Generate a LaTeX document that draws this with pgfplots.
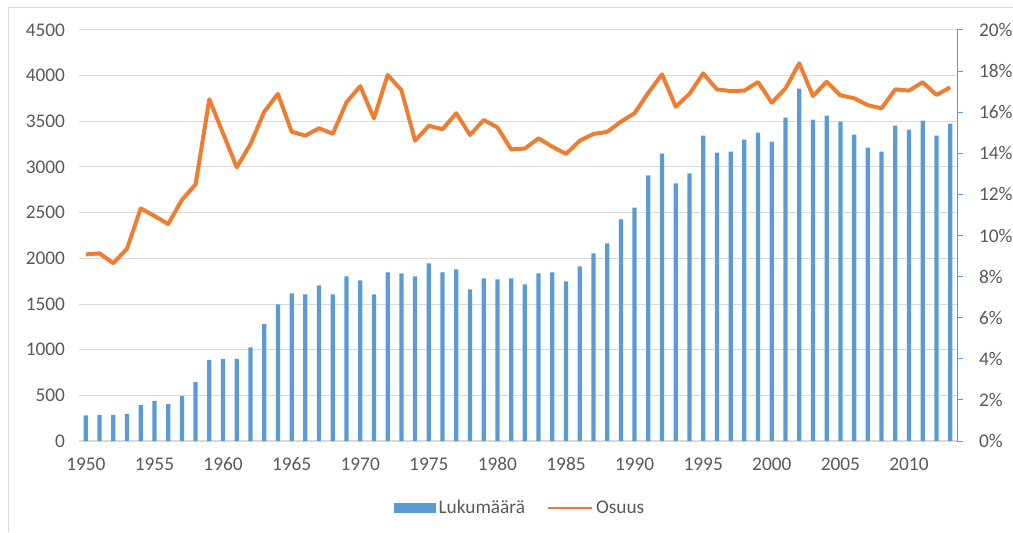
\documentclass[border=0pt]{standalone}
\usepackage{fontspec}
\setmainfont{Carlito}
\usepackage{pgfplots}
\pgfplotsset{compat=1.18}
\definecolor{barblue}{HTML}{5B9BD5}
\definecolor{lineor}{HTML}{ED7D31}
\definecolor{gridc}{HTML}{D9D9D9}
\definecolor{txt}{HTML}{595959}
\definecolor{raxis}{HTML}{5B9BD5}
\begin{document}
\begin{tikzpicture}
\path[use as bounding box] (0,0) rectangle (759.75pt,399pt);
\draw[gridc, line width=0.75pt] (6pt,0) -- (6pt,393pt) -- (759.75pt,393pt);
\begin{axis}[
  at={(59.25pt,68.25pt)}, anchor=south west,
  width=658.5pt, height=308.25pt, scale only axis,
  xmin=1949.5, xmax=2013.5, ymin=0, ymax=4500,
  xtick={1950,1955,...,2010}, ytick={0,500,...,4500},
  axis x line*=bottom, axis y line*=left,
  x axis line style={draw=gridc, line width=1pt, -},
  y axis line style={draw=none},
  major tick style={draw=none},
  ymajorgrids, grid style={draw=gridc, line width=0.75pt},
  /pgf/number format/assume math mode=true,
  /pgf/number format/1000 sep={},
  tick label style={font=\fontsize{14.5}{17}\selectfont, text=txt},
  xticklabel style={yshift=-9pt},
  yticklabel style={xshift=-7pt},
]
\addplot[ybar, bar width=3.2pt, fill=barblue, draw=none] coordinates {
(1950,280) (1951,285) (1952,285) (1953,296) (1954,394) (1955,438) (1956,405) (1957,493)
(1958,646) (1959,887) (1960,898) (1961,898) (1962,1026) (1963,1281) (1964,1496) (1965,1617)
(1966,1606) (1967,1704) (1968,1606) (1969,1803) (1970,1759) (1971,1606) (1972,1847) (1973,1836)
(1974,1803) (1975,1945) (1976,1847) (1977,1880) (1978,1661) (1979,1781) (1980,1770) (1981,1781)
(1982,1716) (1983,1836) (1984,1847) (1985,1748) (1986,1913) (1987,2055) (1988,2165) (1989,2427)
(1990,2555) (1991,2909) (1992,3146) (1993,2821) (1994,2931) (1995,3343) (1996,3157) (1997,3168)
(1998,3299) (1999,3376) (2000,3277) (2001,3540) (2002,3858) (2003,3518) (2004,3562) (2005,3496)
(2006,3354) (2007,3212) (2008,3168) (2009,3452) (2010,3409) (2011,3507) (2012,3343) (2013,3474)
};
\end{axis}
\begin{axis}[
  at={(59.25pt,68.25pt)}, anchor=south west,
  width=658.5pt, height=308.25pt, scale only axis,
  xmin=1949.5, xmax=2013.5, ymin=0, ymax=20,
  ytick={0,2,...,20},
  axis x line=none, axis y line*=right,
  y axis line style={draw=raxis, line width=0.75pt, -},
  ytick style={draw=raxis, line width=0.75pt},
  tick align=outside, major tick length=4.5pt,
  /pgf/number format/assume math mode=true,
  yticklabel={\pgfmathprintnumber{\tick}\%},
  tick label style={font=\fontsize{14.5}{17}\selectfont, text=txt},
  yticklabel style={xshift=8.5pt},
  legend style={draw=none, fill=none, at={(0.503,-0.163)}, anchor=center,
    font=\fontsize{14.5}{17}\selectfont, text=txt, legend columns=2,
    /tikz/every even column/.append style={column sep=14pt}},
]
\addlegendimage{legend image code/.code={\fill[barblue] (0pt,-3.4pt) rectangle (30.75pt,3.4pt);}}
\addlegendentry{Lukumäärä}
\addplot[lineor, line width=3pt, line join=round,
  legend image code/.code={\draw[lineor, line width=2.2pt] (0pt,0pt) -- (33pt,0pt);}] coordinates {
(1950,9.08) (1951,9.13) (1952,8.65) (1953,9.36) (1954,11.32) (1955,10.95) (1956,10.56) (1957,11.73)
(1958,12.49) (1959,16.63) (1960,14.97) (1961,13.32) (1962,14.45) (1963,16.02) (1964,16.89) (1965,15.05)
(1966,14.86) (1967,15.22) (1968,14.95) (1969,16.48) (1970,17.27) (1971,15.70) (1972,17.81) (1973,17.08)
(1974,14.61) (1975,15.34) (1976,15.17) (1977,15.95) (1978,14.89) (1979,15.62) (1980,15.26) (1981,14.19)
(1982,14.23) (1983,14.73) (1984,14.32) (1985,13.97) (1986,14.61) (1987,14.94) (1988,15.04) (1989,15.54)
(1990,15.95) (1991,16.95) (1992,17.84) (1993,16.27) (1994,16.89) (1995,17.89) (1996,17.11) (1997,17.03)
(1998,17.05) (1999,17.47) (2000,16.46) (2001,17.16) (2002,18.38) (2003,16.79) (2004,17.48) (2005,16.82)
(2006,16.68) (2007,16.34) (2008,16.19) (2009,17.11) (2010,17.05) (2011,17.46) (2012,16.84) (2013,17.21)
};
\addlegendentry{Osuus}
\end{axis}
\end{tikzpicture}
\end{document}
